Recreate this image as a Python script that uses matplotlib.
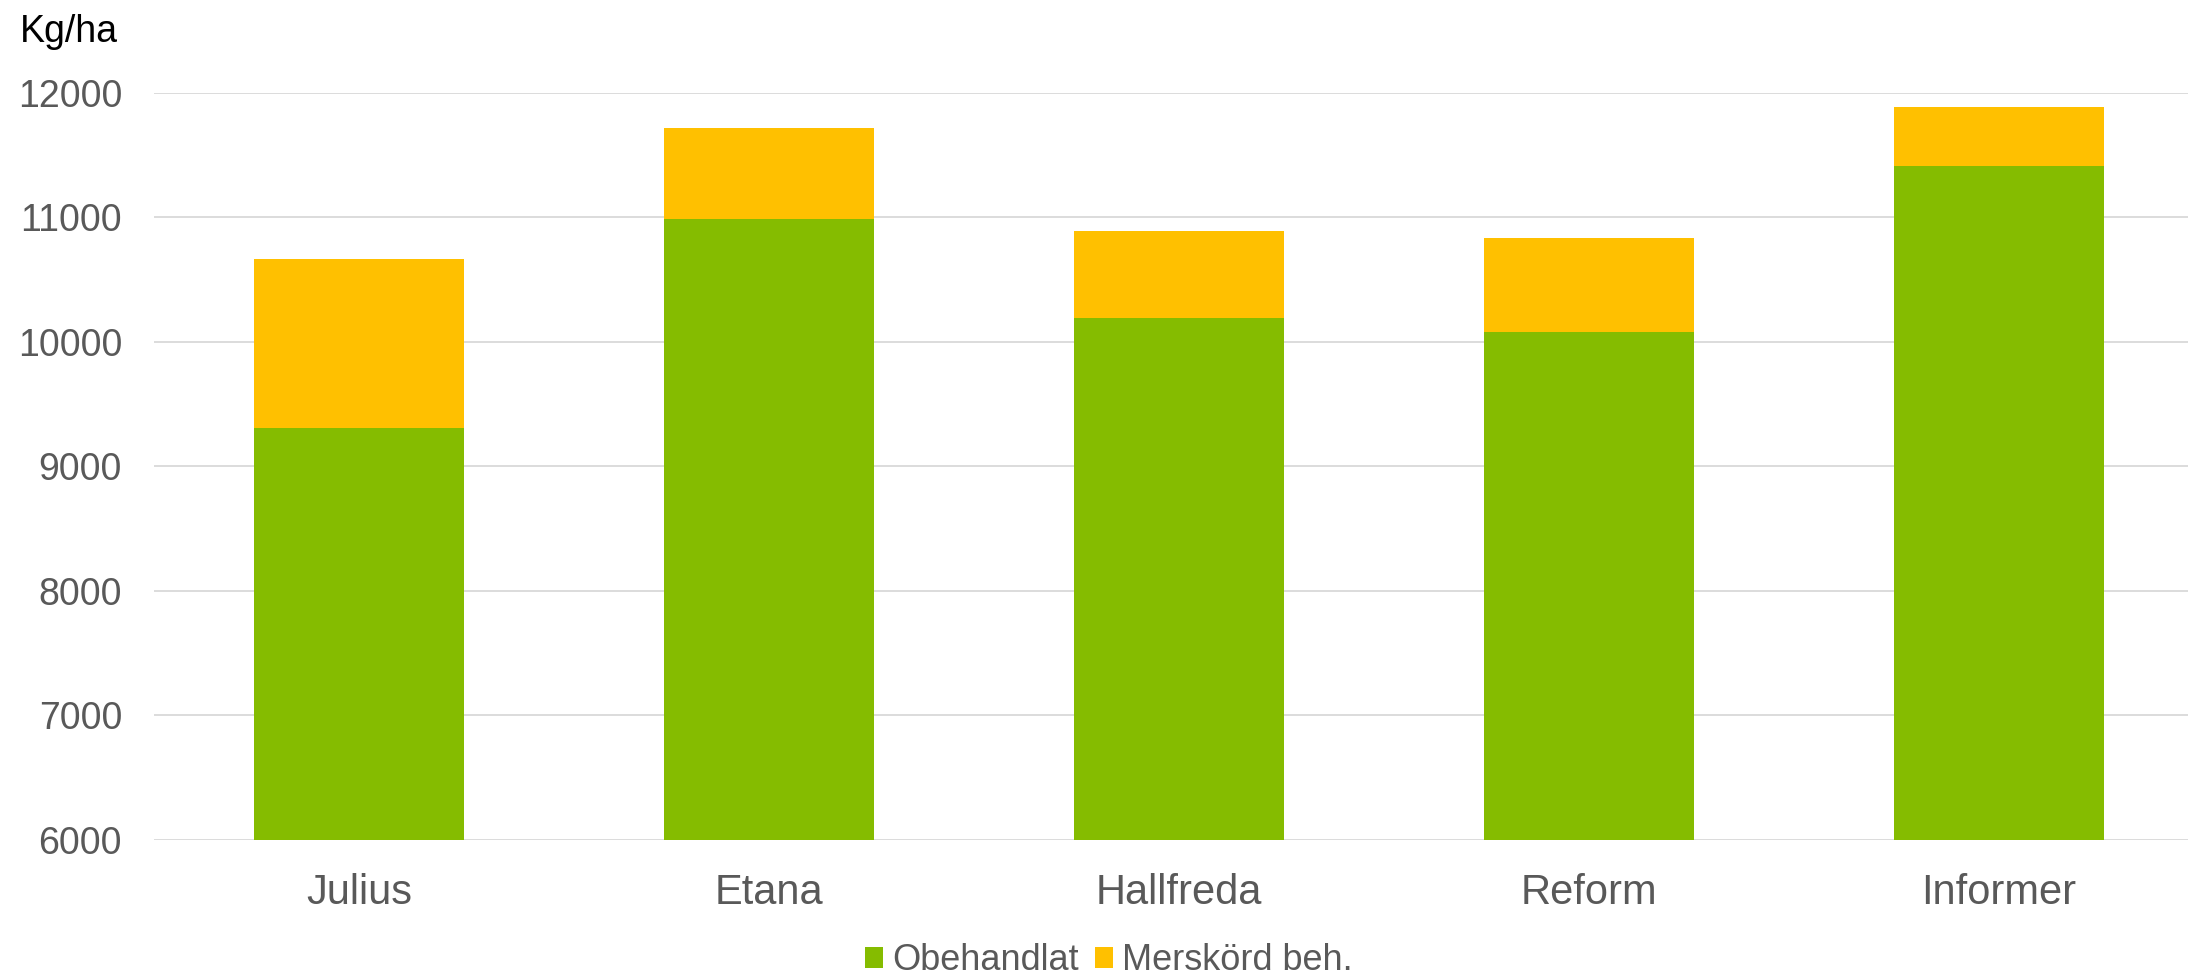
import matplotlib
matplotlib.use("Agg")
import matplotlib.pyplot as plt
import numpy as np

categories = ["Julius", "Etana", "Hallfreda", "Reform", "Informer"]
obehandlat = [9309, 10986, 10193, 10080, 11413]
merskord = [1355, 736, 702, 754, 472]
series_names = ["Obehandlat", "Merskörd beh."]
yticks = [6000, 7000, 8000, 9000, 10000, 11000, 12000]

plt.rcParams['font.family'] = ['Liberation Sans', 'DejaVu Sans']

W, H = 2188, 975
fig = plt.figure(figsize=(W / 100, H / 100), dpi=100)
left, right, top, bottom = 154, 2188, 93, 839.7
ax = fig.add_axes([left / W, 1 - bottom / H, (right - left) / W, (bottom - top) / H])

x = np.arange(len(categories))
green = "#85BC00"
yellow = "#FFC000"
ax.bar(x, obehandlat, width=0.512, bottom=0, color=green, label=series_names[0], zorder=2)
ax.bar(x, merskord, width=0.512, bottom=obehandlat, color=yellow, label=series_names[1], zorder=2)

ax.set_ylim(6000, 12000)
ax.set_xlim(-0.5, 4.5 - 16 / 410)
ax.set_yticks(yticks)
ax.set_yticklabels([str(v) for v in yticks])
ax.set_xticks(x)
ax.set_xticklabels(categories)
ax.yaxis.grid(True, color="#d9d9d9", linewidth=1.3, zorder=0)
ax.set_axisbelow(True)
for s in ax.spines.values():
    s.set_visible(False)
ax.tick_params(axis='y', length=0, pad=23, labelsize=27, labelcolor="#595959")
ax.tick_params(axis='x', length=0, pad=24, labelsize=30, labelcolor="#595959")

fig.text(20 / W, 1 - 42 / H, "Kg/ha", fontsize=27, color="black", ha="left", va="baseline")

leg = fig.legend(loc="center", bbox_to_anchor=(1109 / W, 1 - 961 / H), ncol=2, frameon=False,
                 fontsize=26, handlelength=0.5, handleheight=0.5, handletextpad=0.26,
                 columnspacing=0.44, borderpad=0, borderaxespad=0)
for t in leg.get_texts():
    t.set_color("#595959")

fig.savefig("out.png", dpi=100)
